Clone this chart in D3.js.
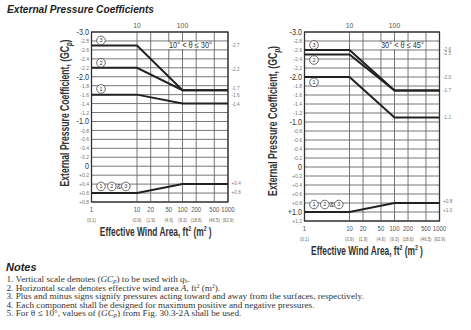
<!DOCTYPE html>
<html>
<head>
<meta charset="utf-8">
<title>External Pressure Coefficients</title>
<script src="https://d3js.org/d3.v7.min.js"></script>
<style>
    body { margin: 0; background: #fff; }
    svg { display: block; }
    .narrow { font-family: "Liberation Sans Narrow", "Liberation Sans", Arial, sans-serif; }
    .serif { font-family: "Liberation Serif", "Times New Roman", serif; }
</style>
</head>
<body>
<div id="chart"></div>
<script>
// effective wind area breakpoints (ft2)
var areas = [1, 10, 100, 1000];

// 10 deg < theta <= 30 deg
var zone3A = [-2.7, -2.7, -1.7, -1.7];
var zone2A = [-2.2, -2.2, -1.7, -1.7];
var zone1A = [-1.6, -1.6, -1.4, -1.4];
var posA = [0.6, 0.6, 0.4, 0.4];
var edgeLabelsA = ["-2.7", "-2.2", "-1.7", "-1.6", "-1.4", "+0.4", "+0.6"];

// 30 deg < theta <= 45 deg
var zone3B = [-2.6, -2.6, -1.7, -1.7];
var zone2B = [-2.5, -2.5, -1.7, -1.7];
var zone1B = [-2.0, -2.0, -1.1, -1.1];
var posB = [1.0, 1.0, 0.8, 0.8];
var edgeLabelsB = ["-2.6", "-2.5", "-2.0", "-1.7", "-1.1", "+0.8", "+1.0"];

// x ticks (ft2) with metric equivalents (m2)
var xTicks = [1, 10, 20, 50, 100, 200, 500, 1000];
var xTicksMetric = ["(0.1)", "(0.9)", "(1.9)", "(4.6)", "(9.3)", "(18.6)", "(46.5)", "(92.9)"];
var topTicks = [10, 100];

var notes = [
    "1. Vertical scale denotes (GCp) to be used with qh.",
    "2. Horizontal scale denotes effective wind area A, ft2 (m2).",
    "3. Plus and minus signs signify pressures acting toward and away from the surfaces, respectively.",
    "4. Each component shall be designed for maximum positive and negative pressures.",
    "5. For \u03b8 \u2264 10\u00b0, values of (GCp) from Fig. 30.3-2A shall be used."
];

var svg = d3.select("#chart").append("svg")
    .attr("width", 471)
    .attr("height", 330);

// squeeze text horizontally (no condensed face installed)
function squeeze(sel, k) {
    sel.each(function () {
        var w = this.getComputedTextLength();
        d3.select(this).attr("textLength", w * k).attr("lengthAdjust", "spacingAndGlyphs");
    });
}

// scale a text along its run so it spans len px; tspans keep their offsets
function fitRun(text, len) {
    var w = text.node().getBBox().width;
    d3.select(text.node().parentNode).attr("transform", function () {
        return d3.select(this).attr("transform") + " scale(" + (len / w) + ",1)";
    });
}

svg.append("text")
    .attr("x", 7).attr("y", 13)
    .attr("font-family", "Liberation Sans, Arial, sans-serif")
    .attr("font-weight", "bold").attr("font-style", "italic")
    .attr("font-size", 11.5).attr("fill", "#222")
    .attr("textLength", 147).attr("lengthAdjust", "spacingAndGlyphs")
    .text("External Pressure Coefficients");

function fmt(v) {
    v = Math.round(v * 10) / 10;
    if (v === 0) return "0";
    return (v > 0 ? "+" : "-") + Math.abs(v).toFixed(1);
}

function drawPanel(opt) {
    var x = d3.scaleLog().domain([1, 1000]).range([opt.left, opt.right]);
    var y = d3.scaleLinear().domain([-3.0, opt.yMax]).range([opt.top, opt.bottom]);
    var g = svg.append("g");

    // horizontal grid every 0.2
    var yTicks = d3.range(-30, Math.round(opt.yMax * 10) + 1, 2).map(function (d) { return d / 10; });
    g.selectAll(".hgrid").data(yTicks).enter().append("line")
        .attr("x1", opt.left).attr("x2", opt.right)
        .attr("y1", function (d) { return y(d); }).attr("y2", function (d) { return y(d); })
        .attr("stroke", "#666").attr("stroke-width", 0.9);

    g.selectAll(".vgrid").data(xTicks).enter().append("line")
        .attr("x1", function (d) { return x(d); }).attr("x2", function (d) { return x(d); })
        .attr("y1", opt.top).attr("y2", opt.bottom)
        .attr("stroke", "#666").attr("stroke-width", 0.9);

    g.append("rect")
        .attr("x", opt.left).attr("y", opt.top)
        .attr("width", opt.right - opt.left).attr("height", opt.bottom - opt.top)
        .attr("fill", "none").attr("stroke", "#333").attr("stroke-width", 1.3);

    // y tick labels
    var isMajor = function (d) { return Math.abs(d % 1) < 0.01; };
    g.selectAll(".ylab").data(yTicks).enter().append("text")
        .attr("class", "narrow")
        .attr("x", opt.left - 2.5)
        .attr("y", function (d) { return y(d); })
        .attr("dy", "0.35em")
        .attr("text-anchor", "end")
        .attr("font-size", function (d) { return isMajor(d) ? 8.5 : 6; })
        .attr("fill", function (d) { return isMajor(d) ? "#333" : "#777"; })
        .text(fmt)
        .call(squeeze, 0.85);

    // top ticks
    g.selectAll(".toplab").data(topTicks).enter().append("text")
        .attr("class", "narrow")
        .attr("x", function (d) { return x(d); })
        .attr("y", opt.top - 4)
        .attr("text-anchor", "middle")
        .attr("font-size", 8).attr("fill", "#555")
        .text(function (d) { return d; })
        .call(squeeze, 0.85);

    // bottom ticks
    g.selectAll(".botlab").data(xTicks).enter().append("text")
        .attr("class", "narrow")
        .attr("x", function (d) { return x(d); })
        .attr("y", opt.bottom + 9.5)
        .attr("text-anchor", "middle")
        .attr("font-size", 7.5).attr("fill", "#555")
        .text(function (d) { return d; })
        .call(squeeze, 0.8);
    g.selectAll(".botlabm").data(xTicksMetric).enter().append("text")
        .attr("class", "narrow")
        .attr("x", function (d, i) { return x(xTicks[i]); })
        .attr("y", opt.bottom + 19.5)
        .attr("text-anchor", "middle")
        .attr("font-size", 5.5).attr("fill", "#666")
        .text(function (d) { return d; })
        .call(squeeze, 0.78);

    // angle range label on white backing
    var ax = x(opt.angleAt);
    g.append("rect")
        .attr("x", ax - 23).attr("y", y(-2.8) + 1)
        .attr("width", 46).attr("height", y(-2.6) - y(-2.8) - 2)
        .attr("fill", "#fff");
    g.append("text")
        .attr("class", "narrow")
        .attr("x", ax).attr("y", (y(-2.8) + y(-2.6)) / 2)
        .attr("dy", "0.35em")
        .attr("text-anchor", "middle")
        .attr("font-size", 8.5).attr("fill", "#333")
        .attr("textLength", 43).attr("lengthAdjust", "spacingAndGlyphs")
        .text(opt.angle);

    // curves
    var line = d3.line()
        .x(function (d) { return x(d[0]); })
        .y(function (d) { return y(d[1]); });
    opt.series.forEach(function (s) {
        g.append("path")
            .datum(areas.map(function (a, i) { return [a, s[i]]; }))
            .attr("fill", "none")
            .attr("stroke", "#222")
            .attr("stroke-width", 2)
            .attr("d", line);
    });

    // values at right edge
    g.selectAll(".edge").data(opt.edgeLabels).enter().append("text")
        .attr("class", "narrow")
        .attr("x", opt.right + 3.5)
        .attr("y", function (d, i) { return y(+d) + (opt.edgeShift[i] || 0); })
        .attr("dy", "0.35em")
        .attr("font-size", 5.5).attr("fill", "#777")
        .text(function (d) { return d; })
        .call(squeeze, 0.85);

    // zone markers
    function marker(cx, cy, label) {
        g.append("circle")
            .attr("cx", cx).attr("cy", cy).attr("r", 4.3)
            .attr("fill", "#fff").attr("stroke", "#444").attr("stroke-width", 0.8);
        g.append("text")
            .attr("class", "narrow")
            .attr("x", cx).attr("y", cy).attr("dy", "0.35em")
            .attr("text-anchor", "middle")
            .attr("font-size", 5.5).attr("fill", "#333")
            .text(label);
    }
    var mx = x(1) + 9.5;
    opt.markers.forEach(function (m) { marker(mx, y(m[1]) - m[2], m[0]); });
    var by = y(opt.series[3][0]) - opt.bottomMarkerLift;
    marker(mx, by, "1");
    marker(mx + 10.8, by, "2");
    g.append("text")
        .attr("class", "narrow")
        .attr("x", mx + 17.8).attr("y", by).attr("dy", "0.35em")
        .attr("text-anchor", "middle")
        .attr("font-size", 6.5).attr("fill", "#333")
        .text("&");
    marker(mx + 24.8, by, "3");

    // axis titles
    var ytg = svg.append("g")
        .attr("transform", "translate(" + opt.yTitleX + "," + opt.yTitleY + ") rotate(-90)");
    var yt = ytg.append("text")
        .attr("class", "narrow")
        .attr("text-anchor", "middle")
        .attr("font-weight", "bold").attr("font-size", 12.5).attr("fill", "#333");
    yt.append("tspan").text("External Pressure Coefficient, (GC");
    yt.append("tspan").attr("font-size", 8.5).attr("font-style", "italic").attr("dy", 3).text("p");
    yt.append("tspan").attr("dy", -3).text(")");
    fitRun(yt, opt.yTitleLen);

    var xtg = svg.append("g")
        .attr("transform", "translate(" + ((opt.left + opt.right) / 2 + opt.xTitleDx) + "," + opt.xTitleY + ")");
    var xt = xtg.append("text")
        .attr("class", "narrow")
        .attr("text-anchor", "middle")
        .attr("font-weight", "bold").attr("font-size", 12).attr("fill", "#333");
    xt.append("tspan").text("Effective Wind Area, ft");
    xt.append("tspan").attr("font-size", 7.5).attr("dy", -5).text("2");
    xt.append("tspan").attr("dy", 5).text(" (m");
    xt.append("tspan").attr("font-size", 7.5).attr("dy", -5).text("2");
    xt.append("tspan").attr("dy", 5).text(" )");
    fitRun(xt, 112);
}

drawPanel({
    left: 91.5, right: 228, top: 32, bottom: 202, yMax: 0.8,
    series: [zone3A, zone2A, zone1A, posA],
    edgeLabels: edgeLabelsA, edgeShift: [0, 1, -2.5, 0, 0, -1, -1],
    markers: [["3", -2.7, 5], ["2", -2.2, 5], ["1", -1.6, 5.7]],
    bottomMarkerLift: 6.6,
    angle: "10\u00b0 < \u03b8 \u2264 30\u00b0", angleAt: 150,
    yTitleX: 69, yTitleY: 113, yTitleLen: 147, xTitleY: 236, xTitleDx: -4
});

drawPanel({
    left: 304.5, right: 439.5, top: 32, bottom: 221, yMax: 1.2,
    series: [zone3B, zone2B, zone1B, posB],
    edgeLabels: edgeLabelsB, edgeShift: [-1, -1, 0, 0, 0, -2, -2],
    markers: [["3", -2.6, 5], ["2", -2.5, -5.5], ["1", -2.0, -5.3]],
    bottomMarkerLift: 7.5,
    angle: "30\u00b0 < \u03b8 \u2264 45\u00b0", angleAt: 150,
    yTitleX: 277, yTitleY: 121, yTitleLen: 150, xTitleY: 255, xTitleDx: -5
});

// notes
svg.append("text")
    .attr("x", 6).attr("y", 271)
    .attr("font-family", "Liberation Sans, Arial, sans-serif")
    .attr("font-weight", "bold").attr("font-style", "italic")
    .attr("font-size", 11).attr("fill", "#222")
    .text("Notes");

var nt = svg.append("g").attr("class", "serif").attr("font-size", 9.2).attr("fill", "#333");
notes.forEach(function (n, i) {
    var t = nt.append("text").attr("x", 6.5).attr("y", 282 + i * 8.5);
    // italic symbols, sub- and superscripts
    var parts = n.split(/(\(GCp\)|qh\.|A,|ft2 \(m2\)\.)/);
    parts.forEach(function (p) {
        if (p === "") return;
        if (p === "(GCp)") {
            t.append("tspan").text("(");
            t.append("tspan").attr("font-style", "italic").text("GC");
            t.append("tspan").attr("font-style", "italic").attr("font-size", 6.5).attr("dy", 1).text("p");
            t.append("tspan").attr("dy", -1).text(")");
        } else if (p === "qh.") {
            t.append("tspan").attr("font-style", "italic").text("q");
            t.append("tspan").attr("font-style", "italic").attr("font-size", 5.5).attr("dy", 1.2).text("h");
            t.append("tspan").attr("dy", -1.2).text(".");
        } else if (p === "A,") {
            t.append("tspan").attr("font-style", "italic").text("A");
            t.append("tspan").text(",");
        } else if (p === "ft2 (m2).") {
            t.append("tspan").text("ft");
            t.append("tspan").attr("font-size", 5.5).attr("dy", -2.5).text("2");
            t.append("tspan").attr("dy", 2.5).text(" (m");
            t.append("tspan").attr("font-size", 5.5).attr("dy", -2.5).text("2");
            t.append("tspan").attr("dy", 2.5).text(").");
        } else {
            t.append("tspan").text(p);
        }
    });
});
</script>
</body>
</html>
